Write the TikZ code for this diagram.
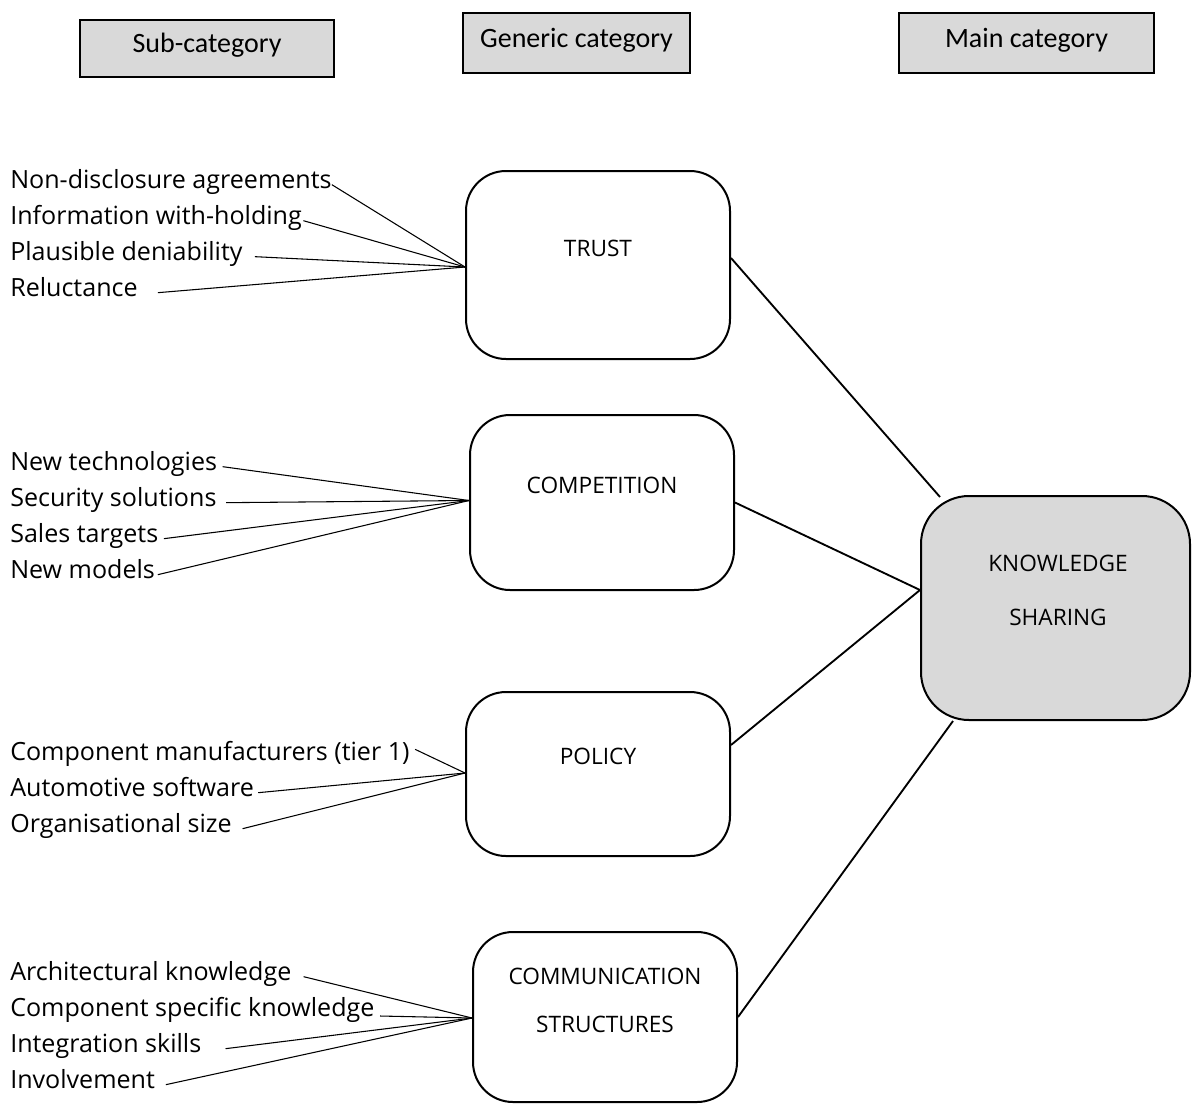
\documentclass[tikz,border=0pt]{standalone}
\usepackage{fontspec}
\setmainfont{Open Sans}
\newfontfamily\headfont{Carlito}
\usetikzlibrary{calc}
\definecolor{boxgray}{HTML}{D9D9D9}
\begin{document}
\begin{tikzpicture}[x=0.75pt,y=-0.75pt,
  headbox/.style={draw, line width=1.6pt, fill=boxgray, inner sep=0pt,
    text height=15pt, text depth=9pt,
    font=\headfont\fontsize{21}{24}\selectfont},
  genbox/.style={draw, line width=1.5pt, rounded corners=30pt, inner sep=0pt,
    minimum width=198pt},
  boxlabel/.style={inner sep=0pt, font=\fontsize{17}{20}\selectfont},
  subitem/.style={anchor=base west, inner sep=0pt, font=\fontsize{18.8}{22}\selectfont},
  sublink/.style={line width=0.8pt},
  mainlink/.style={line width=1.4pt}]
\useasboundingbox (0,0) rectangle (1192,1104);

% column headers
\node[headbox, minimum width=190.5pt, minimum height=42.75pt] (hsub) at (207,48.5) {Sub-category};
\node[headbox, minimum width=170.25pt, minimum height=45pt] (hgen) at (576.5,43) {Generic category};
\node[headbox, minimum width=191.25pt, minimum height=45pt] (hmain) at (1026.5,43) {Main category};

% generic categories
\node[genbox, minimum height=141pt] (trust) at (598,265) {};
\node[boxlabel] (trustlbl) at (598,248) {TRUST};
\node[genbox, minimum height=131.25pt] (comp) at (602,502.5) {};
\node[boxlabel] (complbl) at (602,485) {COMPETITION};
\node[genbox, minimum height=123pt] (policy) at (598,774) {};
\node[boxlabel] (policylbl) at (598,756) {POLICY};
\node[genbox, minimum height=127.5pt] (comm) at (605,1017) {};
\node[boxlabel] (commlbl1) at (605,976) {COMMUNICATION};
\node[boxlabel] (commlbl2) at (605,1024) {STRUCTURES};

% main category
\node[draw, line width=1.5pt, rounded corners=36pt, fill=boxgray, inner sep=0pt,
  minimum width=201.75pt, minimum height=168pt] (ks) at (1055.5,608) {};
\node[boxlabel] (kslbl1) at (1058,563) {KNOWLEDGE};
\node[boxlabel] (kslbl2) at (1058,617) {SHARING};

% links to the main category
\draw[mainlink] ($(trust.east)+(0,-7)$) -- ($(ks.north west)+(20,2)$);
\draw[mainlink] (comp.east) -- ($(ks.west)+(0,-18)$);
\draw[mainlink] ($(policy.east)+(0,-29)$) -- ($(ks.west)+(0,-18)$);
\draw[mainlink] (comm.east) -- ($(ks.south west)+(33,0)$);

% sub-categories: trust
\node[subitem] (s11) at (10,188) {Non-disclosure agreements};
\node[subitem] (s12) at (10,224) {Information with-holding};
\node[subitem] (s13) at (10,260) {Plausible deniability};
\node[subitem] (s14) at (10,296) {Reluctance};
\coordinate (c1) at ($(trust.west)+(0,2)$);
\draw[sublink] ([xshift=0pt,yshift=2.5pt]s11.base east) -- (c1);
\draw[sublink] ([xshift=1pt,yshift=2.5pt]s12.base east) -- (c1);
\draw[sublink] ([xshift=9pt,yshift=2.5pt]s13.base east) -- (c1);
\draw[sublink] ([xshift=15pt,yshift=2.5pt]s14.base east) -- (c1);

% sub-categories: competition
\node[subitem] (s21) at (10,470) {New technologies};
\node[subitem] (s22) at (10,506) {Security solutions};
\node[subitem] (s23) at (10,542) {Sales targets};
\node[subitem] (s24) at (10,578) {New models};
\coordinate (c2) at ($(comp.west)+(0,-2)$);
\draw[sublink] ([xshift=4pt,yshift=2.5pt]s21.base east) -- (c2);
\draw[sublink] ([xshift=7pt,yshift=2.5pt]s22.base east) -- (c2);
\draw[sublink] ([xshift=4pt,yshift=2.5pt]s23.base east) -- (c2);
\draw[sublink] ([xshift=2pt,yshift=2.5pt]s24.base east) -- (c2);

% sub-categories: policy
\node[subitem] (s31) at (10,760) {Component manufacturers (tier 1)};
\node[subitem] (s32) at (10,796) {Automotive software};
\node[subitem] (s33) at (10,832) {Organisational size};
\coordinate (c3) at ($(policy.west)+(0,-1)$);
\draw[sublink] ([xshift=4pt,yshift=8pt]s31.base east) -- (c3);
\draw[sublink] ([xshift=3pt,yshift=2.5pt]s32.base east) -- (c3);
\draw[sublink] ([xshift=8pt,yshift=2.5pt]s33.base east) -- (c3);

% sub-categories: communication structures
\node[subitem] (s41) at (10,980) {Architectural knowledge};
\node[subitem] (s42) at (10,1016) {Component specific knowledge};
\node[subitem] (s43) at (10,1052) {Integration skills};
\node[subitem] (s44) at (10,1088) {Involvement};
\coordinate (c4) at ($(comm.west)+(0,1)$);
\draw[sublink] ([xshift=9pt,yshift=2.5pt]s41.base east) -- (c4);
\draw[sublink] ([xshift=4pt,yshift=0pt]s42.base east) -- (c4);
\draw[sublink] ([xshift=18pt,yshift=2.5pt]s43.base east) -- (c4);
\draw[sublink] ([xshift=8pt,yshift=2.5pt]s44.base east) -- (c4);
\end{tikzpicture}
\end{document}
